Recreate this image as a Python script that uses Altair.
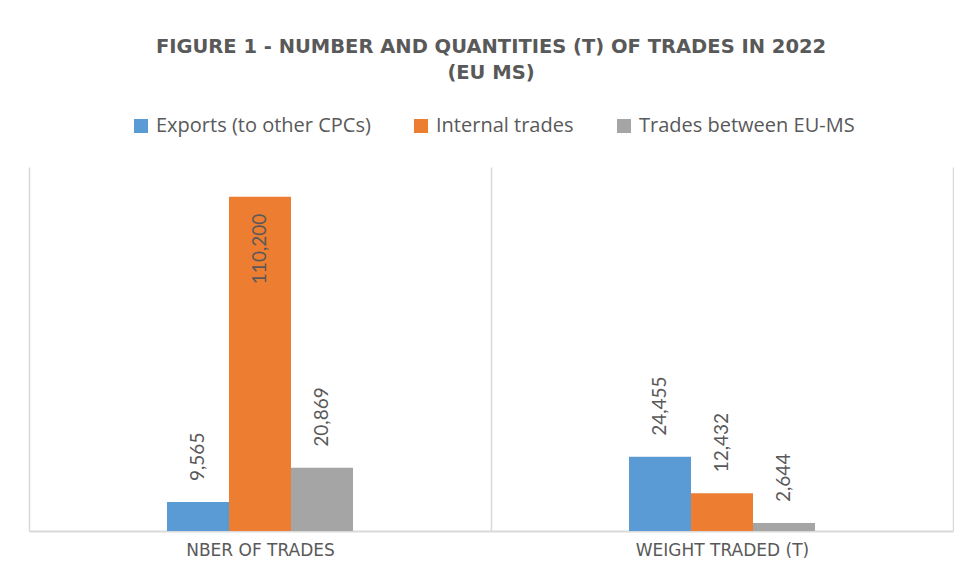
import altair as alt
import pandas as pd

categories = ["NBER OF TRADES", "WEIGHT TRADED (T)"]
series = ["Exports (to other CPCs)", "Internal trades", "Trades between EU-MS"]
colors = ["#5B9BD5", "#ED7D31", "#A5A5A5"]
nber_of_trades = [9565, 110200, 20869]
weight_traded = [24455, 12432, 2644]

rows = []
for cat, vals in zip(categories, [nber_of_trades, weight_traded]):
    for s, v in zip(series, vals):
        rows.append({"category": cat, "series": s, "value": v, "label": f"{v:,}"})
df = pd.DataFrame(rows)

GRAY = "#595959"
LINE = "#D9D9D9"

x_enc = alt.X(
    "category:N", sort=categories, title=None,
    scale=alt.Scale(paddingInner=0, paddingOuter=0),
    axis=alt.Axis(labelAngle=0, ticks=False, grid=True, tickBand="extent",
                  gridColor=LINE, gridWidth=1.5, domainColor=LINE, domainWidth=2,
                  labelColor=GRAY, labelFont="DejaVu Sans", labelFontSize=17,
                  labelPadding=11),
)
xoff = alt.XOffset("series:N", sort=series,
                   scale=alt.Scale(paddingInner=0, paddingOuter=0, range=[138, 324]))
y_enc = alt.Y("value:Q", scale=alt.Scale(domain=[0, 120000]), axis=None)

bars = alt.Chart(df).mark_bar().encode(
    x=x_enc, xOffset=xoff, y=y_enc,
    color=alt.Color(
        "series:N", sort=series,
        scale=alt.Scale(domain=series, range=colors),
        legend=alt.Legend(title=None, orient="none", direction="horizontal",
                          legendX=102, legendY=-51, symbolType="square",
                          symbolSize=196, symbolStrokeWidth=0,
                          labelFont="Open Sans", labelFontSize=20, labelColor=GRAY,
                          labelLimit=0, columnPadding=40, labelOffset=5),
    ),
)

above = alt.Chart(df).transform_filter("datum.value < 100000").mark_text(
    angle=270, align="left", baseline="middle", dx=21,
    font="Lato", fontSize=19, color=GRAY,
).encode(x=x_enc, xOffset=xoff, y=y_enc, text="label:N")

inside = alt.Chart(df).transform_filter("datum.value >= 100000").mark_text(
    angle=270, align="right", baseline="middle", dx=-17,
    font="Lato", fontSize=19, color=GRAY,
).encode(x=x_enc, xOffset=xoff, y=y_enc, text="label:N")

chart = alt.layer(bars, above, inside).properties(
    width=924, height=364,
    title=alt.Title(
        ["FIGURE 1 - NUMBER AND QUANTITIES (T) OF TRADES IN 2022", "(EU MS)"],
        font="DejaVu Sans", fontSize=19.5, fontWeight="bold", color=GRAY,
        anchor="middle", lineHeight=26, offset=33,
    ),
    padding={"left": 21, "top": 159, "right": 1, "bottom": 30},
    autosize=alt.AutoSizeParams(type="none"),
).configure_view(stroke=None)

chart.save("out.html", embed_options={"renderer": "svg", "actions": False})
